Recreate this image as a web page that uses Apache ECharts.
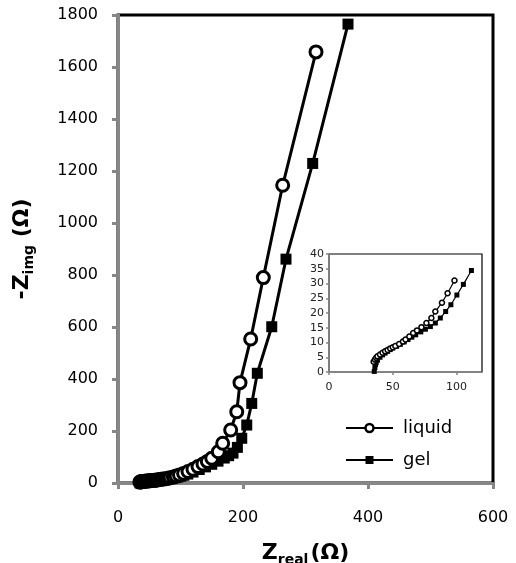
<!DOCTYPE html>
<html>
<head>
<meta charset="utf-8">
<script src="https://cdn.jsdelivr.net/npm/echarts@6/dist/echarts.min.js"></script>
<style>
html,body{margin:0;padding:0;background:#fff;}
#chart{width:516px;height:563px;}
</style>
</head>
<body>
<div id="chart"></div>
<script>
// Data: [Z_real, -Z_img] in ohm
var liquidData = [
  [35,3.5],[36,4.2],[37,4.8],[38,5.3],[40,5.9],[42,6.5],[44,7.0],[46,7.5],[48,8.0],[50,8.4],
  [52,8.8],[55,9.5],[58,10.3],[60,11.0],[63,12.0],[66,13.2],[69,14.1],[72.5,15.2],[76.4,16.6],
  [80.3,18.3],[83.4,20.5],[88.6,23.5],[93,26.7],[98.4,31],
  [105,37],[112,44],[120,53],[128,63],[136,73],[143,83],[150,95],[160.5,120],[167.5,153],
  [180.3,204],[190,274],[195.2,386],[212.3,554],[232.5,790],[263.5,1145],[316.8,1658]
];
var gelData = [
  [35.5,0.2],[36,1.5],[36.5,2.5],[37,3.2],[38,4.0],[40,5.0],[42,5.8],[44,6.4],[46,7.0],[48,7.6],
  [50,8.1],[53,8.7],[56,9.4],[59,10.2],[62,11.0],[65,11.8],[68,12.6],[72,13.6],[75.6,14.5],
  [79.5,15.4],[83.4,16.6],[87.3,18.3],[91.5,20.5],[95.6,22.8],[100.3,26.1],[105.4,29.7],[111.7,34.4],
  [120,42],[130,52],[140,62],[150,72],[160,84],[170,96],[177,105],[184,115],[191,137],[198,172],
  [206,223],[214,306],[222.9,422],[246,601],[268.8,861],[311.5,1229],[368,1765]
];
var seriesNames = ['liquid','gel'];
var mainX = {min:0, max:600, interval:200};
var mainY = {min:0, max:1800, interval:200};
var insetX = {min:0, max:120, ticks:[0,50,100]};
var insetY = {min:0, max:40, interval:5};
var insetLimitY = 35;

var FONT = 'DejaVu Sans';
var GREY = '#878787';
function inset(d){ return d.filter(function(p){return p[1] <= insetLimitY;}); }
function plain(v){ return String(v); }

var chart = echarts.init(document.getElementById('chart'), null, {renderer:'canvas'});
chart.setOption({
  animation:false,
  backgroundColor:'#fff',
  textStyle:{fontFamily:FONT},
  grid:[
    {left:118, top:15, width:375, height:468, show:true, borderColor:'#000', borderWidth:3,
     backgroundColor:'transparent', outerBoundsMode:'none', containLabel:false},
    {left:329, top:254, width:153, height:118, show:true, borderColor:'#000', borderWidth:1.2,
     backgroundColor:'#fff', outerBoundsMode:'none', containLabel:false}
  ],
  legend:{
    data:[
      {name:seriesNames[0], itemStyle:{borderWidth:2.5}},
      {name:seriesNames[1]}
    ],
    orient:'vertical', left:345, top:419, padding:0, itemWidth:47, itemHeight:10, itemGap:14,
    textStyle:{fontSize:18, color:'#000', fontFamily:FONT, padding:[0,0,0,5]}
  },
  xAxis:[
    {gridIndex:0, type:'value', min:mainX.min, max:mainX.max, interval:mainX.interval,
     splitLine:{show:false},
     axisLine:{show:true, onZero:false, lineStyle:{color:GREY, width:3}},
     axisTick:{show:true, length:6, lineStyle:{color:GREY, width:3}},
     axisLabel:{fontSize:16, color:'#000', margin:27, fontFamily:FONT, formatter:plain},
     name:'{b|Z}{s|real}{b|(Ω)}', nameLocation:'middle', nameGap:56,
     nameTextStyle:{rich:{
       b:{fontSize:22, fontWeight:'bold', color:'#000', fontFamily:FONT, lineHeight:28},
       s:{fontSize:14, fontWeight:'bold', color:'#000', fontFamily:FONT, lineHeight:28, padding:[14,2,0,0]}
     }}},
    {gridIndex:1, type:'value', min:insetX.min, max:insetX.max, interval:50,
     splitLine:{show:false},
     axisLine:{show:true, onZero:false, lineStyle:{color:GREY, width:1.5}},
     axisTick:{show:true, length:3, lineStyle:{color:GREY, width:1.5}, customValues:insetX.ticks},
     axisLabel:{fontSize:11, color:'#222', margin:10, fontFamily:FONT, customValues:insetX.ticks}}
  ],
  yAxis:[
    {gridIndex:0, type:'value', min:mainY.min, max:mainY.max, interval:mainY.interval,
     splitLine:{show:false},
     axisLine:{show:true, onZero:false, lineStyle:{color:GREY, width:3}},
     axisTick:{show:true, length:6, lineStyle:{color:GREY, width:3}},
     axisLabel:{fontSize:16, color:'#000', margin:20, fontFamily:FONT, formatter:plain},
     name:'{b|-Z}{s|img}{b| (Ω)}', nameLocation:'middle', nameGap:82, nameRotate:90,
     nameTextStyle:{rich:{
       b:{fontSize:22, fontWeight:'bold', color:'#000', fontFamily:FONT, lineHeight:28},
       s:{fontSize:14, fontWeight:'bold', color:'#000', fontFamily:FONT, lineHeight:28, padding:[14,0,0,0]}
     }}},
    {gridIndex:1, type:'value', min:insetY.min, max:insetY.max, interval:insetY.interval,
     splitLine:{show:false},
     axisLine:{show:true, onZero:false, lineStyle:{color:GREY, width:1.5}},
     axisTick:{show:true, length:3, lineStyle:{color:GREY, width:1.5}},
     axisLabel:{fontSize:11, color:'#222', margin:5, fontFamily:FONT, formatter:plain}}
  ],
  series:[
    {name:seriesNames[0], type:'line', xAxisIndex:0, yAxisIndex:0, data:liquidData,
     symbol:'circle', symbolSize:12, showAllSymbol:true,
     lineStyle:{color:'#000', width:3},
     itemStyle:{color:'#fff', borderColor:'#000', borderWidth:3}, z:3},
    {name:seriesNames[1], type:'line', xAxisIndex:0, yAxisIndex:0, data:gelData,
     symbol:'rect', symbolSize:11, showAllSymbol:true,
     lineStyle:{color:'#000', width:3},
     itemStyle:{color:'#000', borderColor:'#000', borderWidth:0}, z:2},
    {name:seriesNames[0], type:'line', xAxisIndex:1, yAxisIndex:1, data:inset(liquidData),
     symbol:'circle', symbolSize:5, showAllSymbol:true,
     lineStyle:{color:'#000', width:1.2},
     itemStyle:{color:'#fff', borderColor:'#000', borderWidth:1.5}, z:5},
    {name:seriesNames[1], type:'line', xAxisIndex:1, yAxisIndex:1, data:inset(gelData),
     symbol:'rect', symbolSize:5, showAllSymbol:true,
     lineStyle:{color:'#000', width:1.2},
     itemStyle:{color:'#000'}, z:4}
  ]
});
</script>
</body>
</html>
